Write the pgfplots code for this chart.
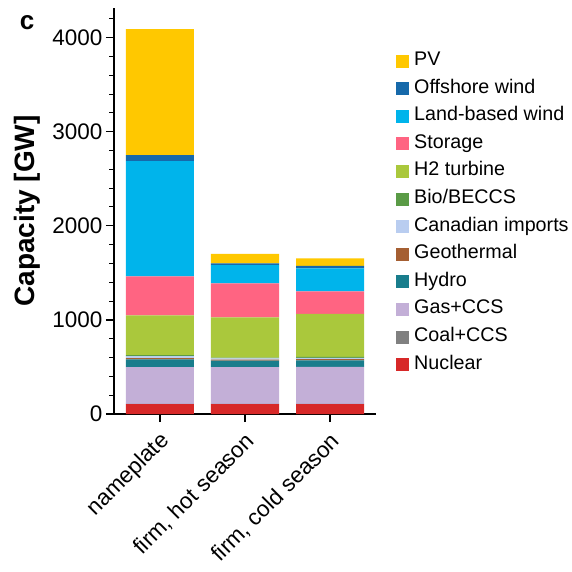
\documentclass[border=0pt]{standalone}
\usepackage{pgfplots}
\usepackage{pgfplotstable}
\pgfplotsset{compat=1.18}
\usepackage{fontspec}
\setmainfont{Liberation Sans}

\definecolor{cPV}{RGB}{255,200,0}
\definecolor{cOff}{RGB}{22,105,170}
\definecolor{cLand}{RGB}{0,180,235}
\definecolor{cStor}{RGB}{255,100,130}
\definecolor{cHtwo}{RGB}{170,200,60}
\definecolor{cBio}{RGB}{90,155,70}
\definecolor{cCan}{RGB}{185,205,240}
\definecolor{cGeo}{RGB}{165,95,50}
\definecolor{cHydro}{RGB}{25,125,140}
\definecolor{cGas}{RGB}{195,175,215}
\definecolor{cCoal}{RGB}{128,128,128}
\definecolor{cNuc}{RGB}{215,40,40}

% capacity by technology [GW]; x: 0 nameplate, 1 firm hot, 2 firm cold
\pgfplotstableread{
x nuc coal gas hydro geo can bio htwo stor land off pv
0 105 2 392 82 14 20 12 420 415 1225 64 1340
1 105 2 391 68 11 13 10 426 361 195 18 103
2 105 2 395 68 12 14 12 457 237 245 28 78
}\cap

\begin{document}
\begin{tikzpicture}
\path (-114pt,-158pt) rectangle (454pt,414pt);
\begin{axis}[
  at={(0,0)}, anchor=south west,
  scale only axis, clip=false,
  width=262pt, height=406pt,
  ybar stacked, bar width=0.8,
  xmin=-0.54, xmax=2.54,
  ymin=0, ymax=4315,
  axis x line*=bottom, axis y line*=left,
  axis line style={-, line width=1.2pt},
  xtick={0,1,2},
  xticklabels={nameplate, {firm, hot season}, {firm, cold season}},
  ytick={0,1000,2000,3000,4000},
  minor ytick={200,400,600,800,1200,1400,1600,1800,2200,2400,2600,2800,3200,3400,3600,3800,4200},
  tick align=outside,
  major tick length=8pt, minor tick length=4.5pt,
  every tick/.style={black, line width=1.2pt},
  minor tick style={line width=1.0pt},
  /pgf/number format/assume math mode=true,
  /pgf/number format/set thousands separator={},
  ticklabel style={font=\fontsize{22.5}{26}\selectfont},
  x tick label style={rotate=45, anchor=east, xshift=-3.4pt, yshift=-15.3pt},
  ylabel={\bfseries Capacity [GW]},
  ylabel style={font=\fontsize{28}{30}\selectfont, yshift=5pt},
  reverse legend,
  legend cell align=left,
  legend image code/.code={\fill[#1] (0pt,-6.5pt) rectangle (13pt,6.5pt); \path (18pt,0pt);},
  legend style={draw=none, fill=none,
    at={(axis description cs:1.065,0.897)}, anchor=north west,
    font=\fontsize{19.7}{22}\selectfont,
    row sep=9.6pt,
    nodes={inner sep=0pt, text height=13.5pt, text depth=4.5pt}},
]
\addplot[fill=cNuc, draw=none] table[x=x, y=nuc] {\cap};
\addlegendentry{Nuclear}
\addplot[fill=cCoal, draw=none] table[x=x, y=coal] {\cap};
\addlegendentry{Coal+CCS}
\addplot[fill=cGas, draw=none] table[x=x, y=gas] {\cap};
\addlegendentry{Gas+CCS}
\addplot[fill=cHydro, draw=none] table[x=x, y=hydro] {\cap};
\addlegendentry{Hydro}
\addplot[fill=cGeo, draw=none] table[x=x, y=geo] {\cap};
\addlegendentry{Geothermal}
\addplot[fill=cCan, draw=none] table[x=x, y=can] {\cap};
\addlegendentry{Canadian imports}
\addplot[fill=cBio, draw=none] table[x=x, y=bio] {\cap};
\addlegendentry{Bio/BECCS}
\addplot[fill=cHtwo, draw=none] table[x=x, y=htwo] {\cap};
\addlegendentry{H2 turbine}
\addplot[fill=cStor, draw=none] table[x=x, y=stor] {\cap};
\addlegendentry{Storage}
\addplot[fill=cLand, draw=none] table[x=x, y=land] {\cap};
\addlegendentry{Land-based wind}
\addplot[fill=cOff, draw=none] table[x=x, y=off] {\cap};
\addlegendentry{Offshore wind}
\addplot[fill=cPV, draw=none] table[x=x, y=pv] {\cap};
\addlegendentry{PV}
\node[font=\fontsize{26}{28}\selectfont\bfseries] at (axis description cs:-0.332,0.965) {c};
\end{axis}
\end{tikzpicture}
\end{document}
